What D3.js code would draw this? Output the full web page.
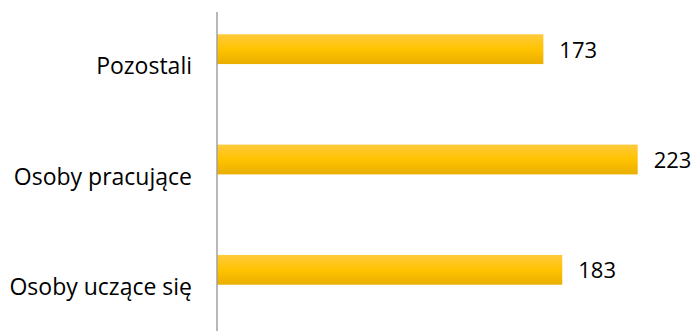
<!DOCTYPE html>
<html lang="pl">
<head>
<meta charset="UTF-8">
<title>Wykres</title>
<style>
  body { margin: 0; background: #fff; }
  text { font-family: "Open Sans", "DejaVu Sans", sans-serif; fill: #000; }
</style>
</head>
<body>
<svg id="chart" width="695" height="334"></svg>
<script src="https://cdnjs.cloudflare.com/ajax/libs/d3/7.8.5/d3.min.js"></script>
<script>
// dane z wykresu
const categories = ['Pozostali', 'Osoby pracujące', 'Osoby uczące się'];
const values = [173, 223, 183];

const svg = d3.select('#chart');
const axisX = 217;

// skala pozioma: 223 -> ok. 638px
const x = d3.scaleLinear().domain([0, 223]).range([axisX, 637.7]);

const y = d3.scaleBand()
    .domain(categories)
    .range([-6, 325])
    .paddingInner(0.73)
    .paddingOuter(0.365);

// gradient jak w Excelu
const grad = svg.append('defs').append('linearGradient')
    .attr('id', 'barGrad')
    .attr('x1', 0).attr('y1', 0).attr('x2', 0).attr('y2', 1);
grad.append('stop').attr('offset', '0%').attr('stop-color', '#ffca3c');
grad.append('stop').attr('offset', '50%').attr('stop-color', '#ffc300');
grad.append('stop').attr('offset', '100%').attr('stop-color', '#e9ae00');

const data = categories.map((c, i) => ({ cat: c, val: values[i] }));

svg.selectAll('rect.bar')
    .data(data)
    .enter()
    .append('rect')
    .attr('class', 'bar')
    .attr('x', x(0))
    .attr('y', d => y(d.cat))
    .attr('width', d => x(d.val) - x(0))
    .attr('height', y.bandwidth())
    .attr('fill', 'url(#barGrad)');

// os pionowa
svg.append('line')
    .attr('x1', axisX).attr('x2', axisX)
    .attr('y1', 12).attr('y2', 331)
    .attr('stroke', '#a0a0a0')
    .attr('stroke-width', 1.5);

// etykiety kategorii
svg.selectAll('text.cat')
    .data(data)
    .enter()
    .append('text')
    .attr('class', 'cat')
    .attr('x', 192)
    .attr('y', d => y(d.cat) + y.bandwidth() / 2 + 25)
    .attr('text-anchor', 'end')
    .attr('font-size', 23)
    .text(d => d.cat);

// etykiety wartosci
svg.selectAll('text.val')
    .data(data)
    .enter()
    .append('text')
    .attr('class', 'val')
    .attr('x', d => x(d.val) + 16)
    .attr('y', d => y(d.cat) + y.bandwidth() / 2 + 8.5)
    .attr('font-size', 22)
    .text(d => d.val);
</script>
</body>
</html>
